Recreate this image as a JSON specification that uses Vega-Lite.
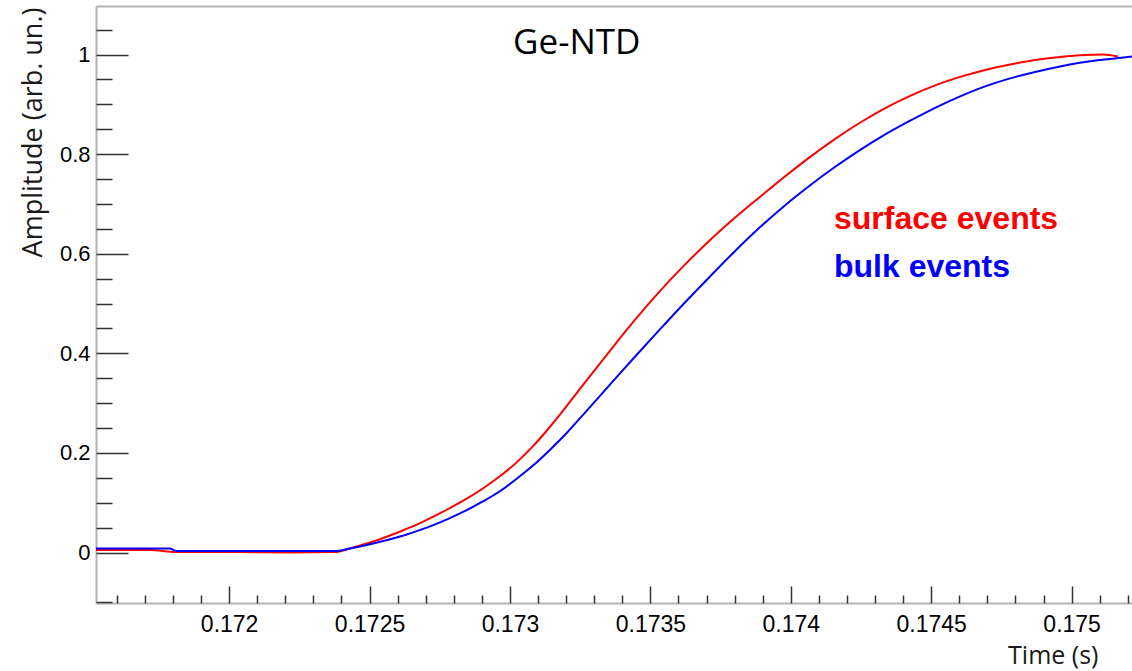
{
  "$schema": "https://vega.github.io/schema/vega-lite/v6.json",
  "width": 1036,
  "height": 597,
  "autosize": "none",
  "padding": {"left": 96, "top": 6, "right": 0, "bottom": 68},
  "background": "white",
  "config": {"view": {"stroke": null}, "axis": {"grid": false}},
  "data": {"values": [
    {"t": 0.171526, "a": 0.005, "series": "surface events"},
    {"t": 0.171718, "a": 0.005, "series": "surface events"},
    {"t": 0.171811, "a": 0.001, "series": "surface events"},
    {"t": 0.172014, "a": 0.001, "series": "surface events"},
    {"t": 0.172217, "a": 0.000, "series": "surface events"},
    {"t": 0.172377, "a": 0.001, "series": "surface events"},
    {"t": 0.172430, "a": 0.008, "series": "surface events"},
    {"t": 0.172490, "a": 0.018, "series": "surface events"},
    {"t": 0.172549, "a": 0.029, "series": "surface events"},
    {"t": 0.172608, "a": 0.042, "series": "surface events"},
    {"t": 0.172668, "a": 0.056, "series": "surface events"},
    {"t": 0.172727, "a": 0.072, "series": "surface events"},
    {"t": 0.172786, "a": 0.089, "series": "surface events"},
    {"t": 0.172846, "a": 0.108, "series": "surface events"},
    {"t": 0.172905, "a": 0.129, "series": "surface events"},
    {"t": 0.172964, "a": 0.153, "series": "surface events"},
    {"t": 0.173024, "a": 0.181, "series": "surface events"},
    {"t": 0.173083, "a": 0.214, "series": "surface events"},
    {"t": 0.173142, "a": 0.252, "series": "surface events"},
    {"t": 0.173202, "a": 0.294, "series": "surface events"},
    {"t": 0.173261, "a": 0.337, "series": "surface events"},
    {"t": 0.173356, "a": 0.405, "series": "surface events"},
    {"t": 0.173445, "a": 0.467, "series": "surface events"},
    {"t": 0.173534, "a": 0.525, "series": "surface events"},
    {"t": 0.173623, "a": 0.578, "series": "surface events"},
    {"t": 0.173712, "a": 0.627, "series": "surface events"},
    {"t": 0.173801, "a": 0.672, "series": "surface events"},
    {"t": 0.173890, "a": 0.714, "series": "surface events"},
    {"t": 0.173979, "a": 0.755, "series": "surface events"},
    {"t": 0.174068, "a": 0.794, "series": "surface events"},
    {"t": 0.174157, "a": 0.830, "series": "surface events"},
    {"t": 0.174246, "a": 0.863, "series": "surface events"},
    {"t": 0.174335, "a": 0.892, "series": "surface events"},
    {"t": 0.174425, "a": 0.917, "series": "surface events"},
    {"t": 0.174514, "a": 0.938, "series": "surface events"},
    {"t": 0.174603, "a": 0.955, "series": "surface events"},
    {"t": 0.174692, "a": 0.969, "series": "surface events"},
    {"t": 0.174781, "a": 0.980, "series": "surface events"},
    {"t": 0.174870, "a": 0.989, "series": "surface events"},
    {"t": 0.174959, "a": 0.995, "series": "surface events"},
    {"t": 0.175048, "a": 0.999, "series": "surface events"},
    {"t": 0.175112, "a": 1.000, "series": "surface events"},
    {"t": 0.175165, "a": 0.996, "series": "surface events"},
    {"t": 0.171526, "a": 0.008, "series": "bulk events"},
    {"t": 0.171789, "a": 0.008, "series": "bulk events"},
    {"t": 0.171811, "a": 0.003, "series": "bulk events"},
    {"t": 0.172377, "a": 0.003, "series": "bulk events"},
    {"t": 0.172430, "a": 0.008, "series": "bulk events"},
    {"t": 0.172490, "a": 0.015, "series": "bulk events"},
    {"t": 0.172549, "a": 0.023, "series": "bulk events"},
    {"t": 0.172608, "a": 0.032, "series": "bulk events"},
    {"t": 0.172668, "a": 0.043, "series": "bulk events"},
    {"t": 0.172727, "a": 0.055, "series": "bulk events"},
    {"t": 0.172786, "a": 0.069, "series": "bulk events"},
    {"t": 0.172846, "a": 0.085, "series": "bulk events"},
    {"t": 0.172905, "a": 0.103, "series": "bulk events"},
    {"t": 0.172964, "a": 0.123, "series": "bulk events"},
    {"t": 0.173024, "a": 0.148, "series": "bulk events"},
    {"t": 0.173083, "a": 0.175, "series": "bulk events"},
    {"t": 0.173142, "a": 0.206, "series": "bulk events"},
    {"t": 0.173202, "a": 0.240, "series": "bulk events"},
    {"t": 0.173261, "a": 0.277, "series": "bulk events"},
    {"t": 0.173356, "a": 0.337, "series": "bulk events"},
    {"t": 0.173445, "a": 0.393, "series": "bulk events"},
    {"t": 0.173534, "a": 0.448, "series": "bulk events"},
    {"t": 0.173623, "a": 0.502, "series": "bulk events"},
    {"t": 0.173712, "a": 0.554, "series": "bulk events"},
    {"t": 0.173801, "a": 0.605, "series": "bulk events"},
    {"t": 0.173890, "a": 0.653, "series": "bulk events"},
    {"t": 0.173979, "a": 0.697, "series": "bulk events"},
    {"t": 0.174068, "a": 0.737, "series": "bulk events"},
    {"t": 0.174157, "a": 0.774, "series": "bulk events"},
    {"t": 0.174246, "a": 0.808, "series": "bulk events"},
    {"t": 0.174335, "a": 0.839, "series": "bulk events"},
    {"t": 0.174425, "a": 0.867, "series": "bulk events"},
    {"t": 0.174514, "a": 0.893, "series": "bulk events"},
    {"t": 0.174603, "a": 0.916, "series": "bulk events"},
    {"t": 0.174692, "a": 0.936, "series": "bulk events"},
    {"t": 0.174781, "a": 0.952, "series": "bulk events"},
    {"t": 0.174870, "a": 0.965, "series": "bulk events"},
    {"t": 0.174959, "a": 0.976, "series": "bulk events"},
    {"t": 0.175048, "a": 0.985, "series": "bulk events"},
    {"t": 0.175137, "a": 0.991, "series": "bulk events"},
    {"t": 0.175215, "a": 0.996, "series": "bulk events"}
  ]},
  "resolve": {"axis": {"x": "independent", "y": "independent"}},
  "layer": [
    {
      "mark": {"type": "line", "strokeWidth": 2, "clip": true, "interpolate": "monotone"},
      "encoding": {
        "x": {"field": "t", "type": "quantitative",
              "scale": {"domain": [0.171526, 0.175215], "nice": false, "zero": false},
              "axis": {"orient": "bottom", "values": [0.172, 0.1725, 0.173, 0.1735, 0.174, 0.1745, 0.175], "format": ".4~f",
                       "ticks": false, "labels": true, "domain": true, "labelPadding": 10, "labelFont": "Liberation Sans", "labelFontSize": 23,
                       "labelColor": "#000000", "labelBaseline": "top", "labelFlush": false, "labelOverlap": false,
                       "domainColor": "#b4b4b4", "domainWidth": 2,
                       "title": "Time (s)", "titleFont": "Open Sans", "titleFontSize": 25, "titleFontWeight": "normal",
                       "titleColor": "#1a1a1a", "titleAnchor": "end", "titleAlign": "right", "titleBaseline": "alphabetic",
                       "titleX": 1002, "titleY": 60}},
        "y": {"field": "a", "type": "quantitative",
              "scale": {"domain": [-0.1014, 1.0974], "nice": false, "zero": false},
              "axis": {"orient": "left", "values": [0, 0.2, 0.4, 0.6, 0.8, 1], "format": ".1~f",
                       "ticks": false, "labels": true, "domain": true, "labelPadding": 6, "labelFont": "Liberation Sans", "labelFontSize": 22,
                       "labelColor": "#000000", "labelFlush": false, "labelOverlap": false,
                       "domainColor": "#b4b4b4", "domainWidth": 2,
                       "title": "Amplitude (arb. un.)", "titleFont": "Open Sans", "titleFontSize": 27, "titleFontWeight": "normal",
                       "titleColor": "#1a1a1a", "titleAngle": -90, "titleAlign": "right", "titleBaseline": "alphabetic",
                       "titleX": -55, "titleY": 1}},
        "color": {"field": "series", "type": "nominal",
                  "scale": {"domain": ["surface events", "bulk events"], "range": ["#ff0000", "#0000ff"]},
                  "legend": {"orient": "none", "legendX": 706, "legendY": 197, "title": null, "padding": 0,
                             "symbolSize": 0, "symbolOpacity": 0, "symbolStrokeWidth": 0, "labelOffset": 0,
                             "labelFont": "Liberation Sans", "labelFontSize": 32, "labelFontWeight": "bold",
                             "rowPadding": 16, "labelLimit": 400,
                             "encode": {"labels": {"update": {"fill": {"scale": "color", "field": "value"}}}}}}
      }
    },
    {
      "mark": {"type": "point", "opacity": 0},
      "encoding": {
        "x": {"field": "t", "type": "quantitative",
              "scale": {"domain": [0.171526, 0.175215], "nice": false, "zero": false},
              "axis": {"orient": "bottom", "values": [0.172, 0.1725, 0.173, 0.1735, 0.174, 0.1745, 0.175], "labels": false, "domain": false, "ticks": true,
                       "tickSize": -17, "tickColor": "#333333", "tickWidth": 1.5, "title": null}},
        "y": {"field": "a", "type": "quantitative",
              "scale": {"domain": [-0.1014, 1.0974], "nice": false, "zero": false},
              "axis": {"orient": "left", "values": [0, 0.2, 0.4, 0.6, 0.8, 1], "labels": false, "domain": false, "ticks": true,
                       "tickSize": -32, "tickColor": "#333333", "tickWidth": 1.5, "title": null}}
      }
    },
    {
      "mark": {"type": "point", "opacity": 0},
      "encoding": {
        "x": {"field": "t", "type": "quantitative",
              "scale": {"domain": [0.171526, 0.175215], "nice": false, "zero": false},
              "axis": {"orient": "bottom", "values": [0.1716, 0.1717, 0.1718, 0.1719, 0.1721, 0.1722, 0.1723, 0.1724, 0.1726, 0.1727, 0.1728, 0.1729, 0.1731, 0.1732, 0.1733, 0.1734, 0.1736, 0.1737, 0.1738, 0.1739, 0.1741, 0.1742, 0.1743, 0.1744, 0.1746, 0.1747, 0.1748, 0.1749, 0.1751, 0.1752],
                       "labels": false, "domain": false, "ticks": true, "tickSize": -8, "tickColor": "#333333", "tickWidth": 1.5, "title": null}},
        "y": {"field": "a", "type": "quantitative",
              "scale": {"domain": [-0.1014, 1.0974], "nice": false, "zero": false},
              "axis": {"orient": "left", "values": [-0.1, 0.05, 0.1, 0.15, 0.25, 0.3, 0.35, 0.45, 0.5, 0.55, 0.65, 0.7, 0.75, 0.85, 0.9, 0.95, 1.05],
                       "labels": false, "domain": false, "ticks": true, "tickSize": -16, "tickColor": "#333333", "tickWidth": 1.5, "title": null}}
      }
    },
    {
      "data": {"values": [{"label": "Ge-NTD"}]},
      "mark": {"type": "text", "font": "Open Sans", "fontSize": 35, "align": "left", "baseline": "alphabetic", "color": "#000000"},
      "encoding": {
        "x": {"datum": 0.173011, "type": "quantitative", "scale": {"domain": [0.171526, 0.175215], "nice": false, "zero": false},
              "axis": {"orient": "top", "labels": false, "ticks": false, "domain": true, "domainColor": "#b4b4b4", "domainWidth": 2, "title": null}},
        "y": {"datum": 1.001, "type": "quantitative", "scale": {"domain": [-0.1014, 1.0974], "nice": false, "zero": false}, "axis": null},
        "text": {"field": "label", "type": "nominal"}
      }
    }
  ]
}
